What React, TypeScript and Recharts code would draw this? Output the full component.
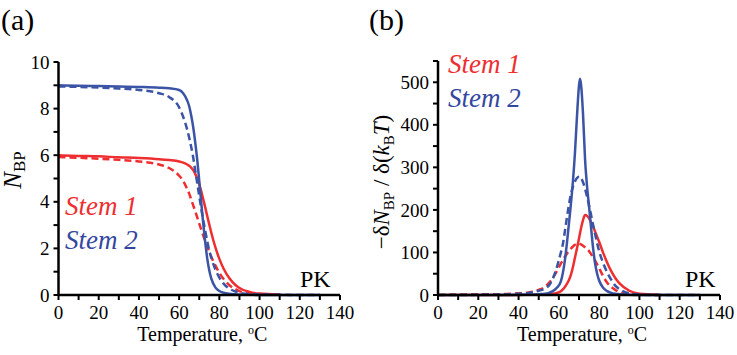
import React from 'react'
import { LineChart, Line, XAxis, YAxis } from 'recharts'

const RED = '#ee2e31'
const BLUE = '#3b54a5'
const BLUE_TEXT = '#34479e'
const FONT = "'Liberation Serif', 'Times New Roman', serif"
const txt = { fontFamily: FONT }

// (a) number of base pairs vs temperature
const tempsA = [0, 10, 20, 30, 40, 50, 55, 60, 62, 64, 65, 66, 67, 68, 69, 70, 71, 72, 73, 74, 75, 76, 78, 80, 82, 85, 88, 90, 95, 100, 110, 120, 130]
const stem1Nbp = [6.0, 5.97, 5.95, 5.91, 5.88, 5.83, 5.79, 5.73, 5.68, 5.6, 5.55, 5.47, 5.36, 5.2, 5.0, 4.75, 4.45, 4.1, 3.75, 3.38, 3.02, 2.67, 2.05, 1.55, 1.15, 0.72, 0.43, 0.3, 0.13, 0.06, 0.02, null, null]
const stem1NbpDash = [5.92, 5.89, 5.85, 5.8, 5.73, 5.6, 5.45, 5.12, 4.9, 4.55, 4.35, 4.1, 3.85, 3.6, 3.33, 3.06, 2.8, 2.55, 2.3, 2.07, 1.85, 1.64, 1.27, 0.95, 0.7, 0.42, 0.25, 0.17, 0.07, 0.03, 0.01, null, null]
const stem2Nbp = [9.0, 8.98, 8.97, 8.95, 8.93, 8.9, 8.87, 8.8, 8.66, 8.35, 8.1, 7.7, 7.2, 6.55, 5.8, 4.9, 3.95, 3.05, 2.25, 1.55, 1.05, 0.7, 0.33, 0.17, 0.1, 0.05, 0.03, 0.02, 0.01, 0, 0, 0, 0]
const stem2NbpDash = [8.95, 8.93, 8.9, 8.86, 8.8, 8.66, 8.5, 8.05, 7.65, 7.1, 6.75, 6.35, 5.9, 5.35, 4.8, 4.25, 3.7, 3.2, 2.75, 2.3, 1.9, 1.6, 1.1, 0.75, 0.5, 0.27, 0.15, 0.1, 0.04, 0.02, 0.01, 0, 0]

// (b) melting derivative
const tempsB = [0, 10, 20, 30, 40, 45, 50, 53, 55, 57, 59, 61, 62, 63, 64, 65, 66, 67, 68, 69, 70, 70.5, 71, 72, 73, 74, 75, 76, 77, 78, 79, 80, 82, 84, 86, 88, 90, 95, 100, 110, 120, 130]
const stem1Deriv = [0, 0, 0, 0, 0, 0.5, 1, 1.5, 2, 3, 5, 9, 13, 19, 26, 35, 48, 66, 88, 110, 133, 145, 157, 176, 188, 186, 180, 171, 161, 149, 137, 125, 99, 76, 56, 40, 28, 10, 3, 0.5, null, null]
const stem1DerivDash = [0, 1, 2, 2, 4, 6, 12, 19, 28, 40, 56, 74, 82, 90, 97, 103, 109, 114, 118, 121, 121, 120, 119, 116, 112, 108, 103, 96, 89, 81, 72, 63, 44, 29, 19, 12, 7, 2, 1, 0, null, null]
const stem2Deriv = [0, 0, 0, 0, 0.5, 1, 2, 3, 5, 9, 17, 32, 52, 82, 122, 168, 215, 268, 335, 420, 492, 508, 495, 425, 320, 255, 208, 158, 110, 74, 50, 34, 17, 9, 5, 3, 2, 0.5, 0, 0, 0, 0]
const stem2DerivDash = [0, 0, 0.5, 1, 3, 5, 10, 15, 22, 38, 65, 100, 120, 150, 182, 212, 237, 255, 267, 275, 278, 278, 275, 265, 250, 231, 210, 188, 165, 143, 122, 103, 75, 53, 36, 22, 14, 4, 1, 0, 0, 0]

const xTicks = [0, 10, 20, 30, 40, 50, 60, 70, 80, 90, 100, 110, 120, 130, 140]
const yTicksA = [0, 1, 2, 3, 4, 5, 6, 7, 8, 9, 10]
const yTicksB = [0, 50, 100, 150, 200, 250, 300, 350, 400, 450, 500, 550]

const rowsA = tempsA.map((t, i) => ({ t, s1: stem1Nbp[i], s1d: stem1NbpDash[i], s2: stem2Nbp[i], s2d: stem2NbpDash[i] }))
const rowsB = tempsB.map((t, i) => ({ t, s1: stem1Deriv[i], s1d: stem1DerivDash[i], s2: stem2Deriv[i], s2d: stem2DerivDash[i] }))

const XTick = (props: any) => {
  const { x, y, payload } = props
  const v = payload.value
  return (
    <g>
      <line x1={x} x2={x} y1={y} y2={y + 5} stroke="#000" strokeWidth={2} />
      {v % 20 === 0 && (
        <text x={x} y={y + 24} textAnchor="middle" fontSize={19} style={txt} fill="#000">
          {v}
        </text>
      )}
    </g>
  )
}

const makeYTick = (every: number) => (props: any) => {
  const { x, y, payload } = props
  const v = payload.value
  return (
    <g>
      <line x1={x} x2={x - 5} y1={y} y2={y} stroke="#000" strokeWidth={2} />
      {v % every === 0 && (
        <text x={x - 9} y={y} dy="0.35em" textAnchor="end" fontSize={19} style={txt} fill="#000">
          {v}
        </text>
      )}
    </g>
  )
}

const xTitle = (props: any) => {
  const vb = props.viewBox
  return (
    <text x={vb.x + vb.width / 2 + 3} y={vb.y + 46} textAnchor="middle" fontSize={20} style={txt} fill="#000">
      Temperature, <tspan fontSize={12} dy={-7}>o</tspan>
      <tspan dy={7}>C</tspan>
    </text>
  )
}

const yTitleA = () => (
  <text x={21} y={170} transform="rotate(-90 21 170)" textAnchor="middle" fontSize={25} style={txt} fill="#000">
    <tspan fontStyle="italic">N</tspan>
    <tspan fontSize={17} dy={4}>BP</tspan>
  </text>
)

const yTitleB = () => (
  <text x={19} y={182} transform="rotate(-90 19 182)" textAnchor="middle" fontSize={23} style={txt} fill="#000">
    −δ<tspan fontStyle="italic">N</tspan>
    <tspan fontSize={15} dy={5}>BP</tspan>
    <tspan dy={-5}> / δ(</tspan>
    <tspan fontStyle="italic">k</tspan>
    <tspan fontSize={15} dy={5}>B</tspan>
    <tspan dy={-5} fontStyle="italic">T</tspan>)
  </text>
)

const axisLine = { stroke: '#000', strokeWidth: 2.5 }

function series() {
  return [
    <Line key="s1" dataKey="s1" type="monotone" stroke={RED} strokeWidth={2.5} dot={false} isAnimationActive={false} />,
    <Line key="s1d" dataKey="s1d" type="monotone" stroke={RED} strokeWidth={2.5} strokeDasharray="7 4" dot={false} isAnimationActive={false} />,
    <Line key="s2d" dataKey="s2d" type="monotone" stroke={BLUE} strokeWidth={2.5} strokeDasharray="7 4" dot={false} isAnimationActive={false} />,
    <Line key="s2" dataKey="s2" type="monotone" stroke={BLUE} strokeWidth={2.5} dot={false} isAnimationActive={false} />,
  ]
}

export default function App() {
  return (
    <div style={{ position: 'absolute', left: 0, top: 0, width: 737, height: 355, background: '#fff', fontFamily: FONT }}>
      <div style={{ position: 'absolute', left: 0, top: 0 }}>
        <LineChart width={370} height={355} data={rowsA} margin={{ top: 62, right: 30, left: 0, bottom: 30 }}>
          <XAxis dataKey="t" type="number" domain={[0, 140]} ticks={xTicks} interval={0} tickSize={0} tickMargin={0} tickLine={false} tick={XTick} axisLine={axisLine} height={30} label={xTitle} />
          <YAxis type="number" domain={[0, 10]} ticks={yTicksA} interval={0} tickSize={0} tickMargin={0} tickLine={false} tick={makeYTick(2)} axisLine={axisLine} width={58.5} label={yTitleA} />
          {series()}
        </LineChart>
      </div>
      <div style={{ position: 'absolute', left: 370, top: 0 }}>
        <LineChart width={367} height={355} data={rowsB} margin={{ top: 61, right: 17, left: 0, bottom: 30 }}>
          <XAxis dataKey="t" type="number" domain={[0, 140]} ticks={xTicks} interval={0} tickSize={0} tickMargin={0} tickLine={false} tick={XTick} axisLine={axisLine} height={30} label={xTitle} />
          <YAxis type="number" domain={[0, 550]} ticks={yTicksB} interval={0} tickSize={0} tickMargin={0} tickLine={false} tick={makeYTick(100)} axisLine={axisLine} width={68} label={yTitleB} />
          {series()}
        </LineChart>
      </div>
      <svg width={737} height={355} style={{ position: 'absolute', left: 0, top: 0, pointerEvents: 'none', fontFamily: FONT }}>
        <text x={1} y={30} fontSize={30} fill="#000">(a)</text>
        <text x={369} y={30} fontSize={30} fill="#000">(b)</text>
        <text x={65} y={215} fontSize={27} fontStyle="italic" fill={RED}>Stem 1</text>
        <text x={65} y={249} fontSize={27} fontStyle="italic" fill={BLUE_TEXT}>Stem 2</text>
        <text x={448} y={73} fontSize={27} fontStyle="italic" fill={RED}>Stem 1</text>
        <text x={448} y={107} fontSize={27} fontStyle="italic" fill={BLUE_TEXT}>Stem 2</text>
        <text x={300} y={287} fontSize={24} fill="#000">PK</text>
        <text x={685} y={287} fontSize={24} fill="#000">PK</text>
      </svg>
    </div>
  )
}
